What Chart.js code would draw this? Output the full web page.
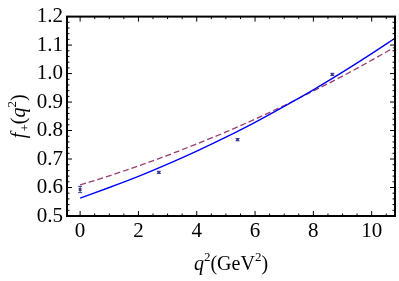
<!DOCTYPE html>
<html>
<head>
<meta charset="utf-8">
<script src="https://cdn.jsdelivr.net/npm/chart.js@4"></script>
<style>
  html, body { margin: 0; padding: 0; background: #fff; }
  #wrap { width: 399px; height: 281px; }
</style>
</head>
<body>
<div id="wrap"><canvas id="chart" width="399" height="281"></canvas></div>
<script>
// values
const curveQ2 = [0, 1, 2, 3, 4, 5, 6, 7, 8, 9, 10, 10.8];
const solidFit = [0.563, 0.600, 0.639, 0.682, 0.728, 0.777, 0.829, 0.885, 0.943, 1.005, 1.070, 1.124];
const dashedFit = [0.609, 0.641, 0.676, 0.713, 0.753, 0.795, 0.840, 0.888, 0.939, 0.991, 1.047, 1.093];

const latticeQ2 = [0, 2.7, 5.4, 8.65];
const latticeF = [0.593, 0.653, 0.768, 0.997];
const latticeErr = [0.011, 0.004, 0.004, 0.004];

const xTicks = [0, 2, 4, 6, 8, 10];
const yTicks = [0.5, 0.6, 0.7, 0.8, 0.9, 1.0, 1.1, 1.2];

const FONT = '"Liberation Serif", "DejaVu Serif", serif';
const pointColor = 'rgb(61, 61, 153)';

const toXY = (xs, ys) => xs.map((x, i) => ({ x: x, y: ys[i] }));

// frame with inward ticks, Mathematica style
const framePlugin = {
    id: 'frame',
    afterDatasetsDraw(chart) {
        const ctx = chart.ctx;
        const a = chart.chartArea;
        const xs = chart.scales.x, ys = chart.scales.y;
        ctx.save();
        ctx.strokeStyle = '#000';
        ctx.lineWidth = 1;
        const tick = (x1, y1, x2, y2) => {
            ctx.beginPath(); ctx.moveTo(x1, y1); ctx.lineTo(x2, y2); ctx.stroke();
        };
        // x ticks, minor every 0.5
        for (let v = 0; v <= 10.8 + 1e-9; v += 0.5) {
            const px = xs.getPixelForValue(v);
            const len = Math.abs(v % 2) < 1e-9 ? 5 : 2.5;
            tick(px, a.bottom, px, a.bottom - len);
            tick(px, a.top, px, a.top + len);
        }
        // y ticks, minor every 0.02
        for (let i = 0; i <= 35; i++) {
            const v = 0.5 + i * 0.02;
            const py = ys.getPixelForValue(v);
            const len = i % 5 === 0 ? 5 : 2.5;
            tick(a.left, py, a.left + len, py);
            tick(a.right, py, a.right - len, py);
        }
        ctx.lineWidth = 2;
        ctx.strokeRect(a.left, a.top, a.right - a.left, a.bottom - a.top);
        ctx.restore();
    }
};

// error bars on the lattice points
const errorBarPlugin = {
    id: 'errorBars',
    afterDatasetsDraw(chart) {
        const ctx = chart.ctx;
        const xs = chart.scales.x, ys = chart.scales.y;
        ctx.save();
        ctx.strokeStyle = pointColor;
        ctx.lineWidth = 1;
        latticeQ2.forEach((q, i) => {
            const px = xs.getPixelForValue(q);
            const top = ys.getPixelForValue(latticeF[i] + latticeErr[i]);
            const bot = ys.getPixelForValue(latticeF[i] - latticeErr[i]);
            ctx.beginPath();
            ctx.moveTo(px, top); ctx.lineTo(px, bot);
            ctx.moveTo(px - 2, top); ctx.lineTo(px + 2, top);
            ctx.moveTo(px - 2, bot); ctx.lineTo(px + 2, bot);
            ctx.stroke();
        });
        ctx.restore();
    }
};

// axis titles with italic variables
const titlePlugin = {
    id: 'titles',
    afterDraw(chart) {
        const ctx = chart.ctx;
        const a = chart.chartArea;
        const put = (parts, cx, cy, rotate) => {
            ctx.save();
            ctx.translate(cx, cy);
            if (rotate) ctx.rotate(-Math.PI / 2);
            ctx.fillStyle = '#000';
            ctx.textBaseline = 'alphabetic';
            let total = 0;
            parts.forEach(p => { ctx.font = p.font; total += ctx.measureText(p.t).width + (p.kern || 0); });
            let x = -total / 2;
            parts.forEach(p => {
                ctx.font = p.font;
                ctx.fillText(p.t, x, 7 + (p.dy || 0));
                x += ctx.measureText(p.t).width + (p.kern || 0);
            });
            ctx.restore();
        };
        const it = 'italic 20px ' + FONT, up = '20px ' + FONT, sm = '13px ' + FONT;
        put([
            { t: 'q', font: it },
            { t: '2', font: sm, dy: -9 },
            { t: '(GeV', font: up },
            { t: '2', font: sm, dy: -9 },
            { t: ')', font: up }
        ], (a.left + a.right) / 2, 263, false);
        put([
            { t: 'f', font: it, kern: 1 },
            { t: '+', font: sm, dy: 4 },
            { t: '(', font: up },
            { t: 'q', font: it },
            { t: '2', font: sm, dy: -9 },
            { t: ')', font: up }
        ], 18, (a.top + a.bottom) / 2, true);
    }
};

new Chart(document.getElementById('chart'), {
    type: 'scatter',
    data: {
        datasets: [
            {
                label: 'fit',
                data: toXY(curveQ2, solidFit),
                showLine: true,
                borderColor: 'rgb(0, 0, 255)',
                borderWidth: 1.4,
                pointRadius: 0,
                cubicInterpolationMode: 'monotone'
            },
            {
                label: 'model',
                data: toXY(curveQ2, dashedFit),
                showLine: true,
                borderColor: 'rgb(153, 61, 113)',
                borderWidth: 1.3,
                borderDash: [6, 3],
                pointRadius: 0,
                cubicInterpolationMode: 'monotone'
            },
            {
                label: 'lattice',
                data: toXY(latticeQ2, latticeF),
                pointStyle: 'rect',
                pointRadius: 2,
                backgroundColor: pointColor,
                borderColor: pointColor,
                borderWidth: 0
            }
        ]
    },
    options: {
        responsive: false,
        animation: false,
        layout: { padding: { top: 13, right: 3, left: 0, bottom: 0 } },
        plugins: {
            legend: { display: false },
            tooltip: { enabled: false }
        },
        scales: {
            x: {
                type: 'linear',
                min: -0.45,
                max: 10.8,
                grid: { display: false, drawTicks: false },
                border: { display: false },
                afterBuildTicks: s => { s.ticks = xTicks.map(v => ({ value: v })); },
                afterFit: s => { s.height = 65; },
                ticks: {
                    padding: 3,
                    color: '#000',
                    font: { family: FONT, size: 21 },
                    maxRotation: 0,
                    callback: v => String(v)
                }
            },
            y: {
                min: 0.5,
                max: 1.2,
                grid: { display: false, drawTicks: false },
                border: { display: false },
                afterBuildTicks: s => { s.ticks = yTicks.map(v => ({ value: v })); },
                afterFit: s => { s.width = 67; },
                ticks: {
                    padding: 4,
                    color: '#000',
                    font: { family: FONT, size: 21 },
                    callback: v => v.toFixed(1)
                }
            }
        }
    },
    plugins: [framePlugin, errorBarPlugin, titlePlugin]
});
</script>
</body>
</html>
